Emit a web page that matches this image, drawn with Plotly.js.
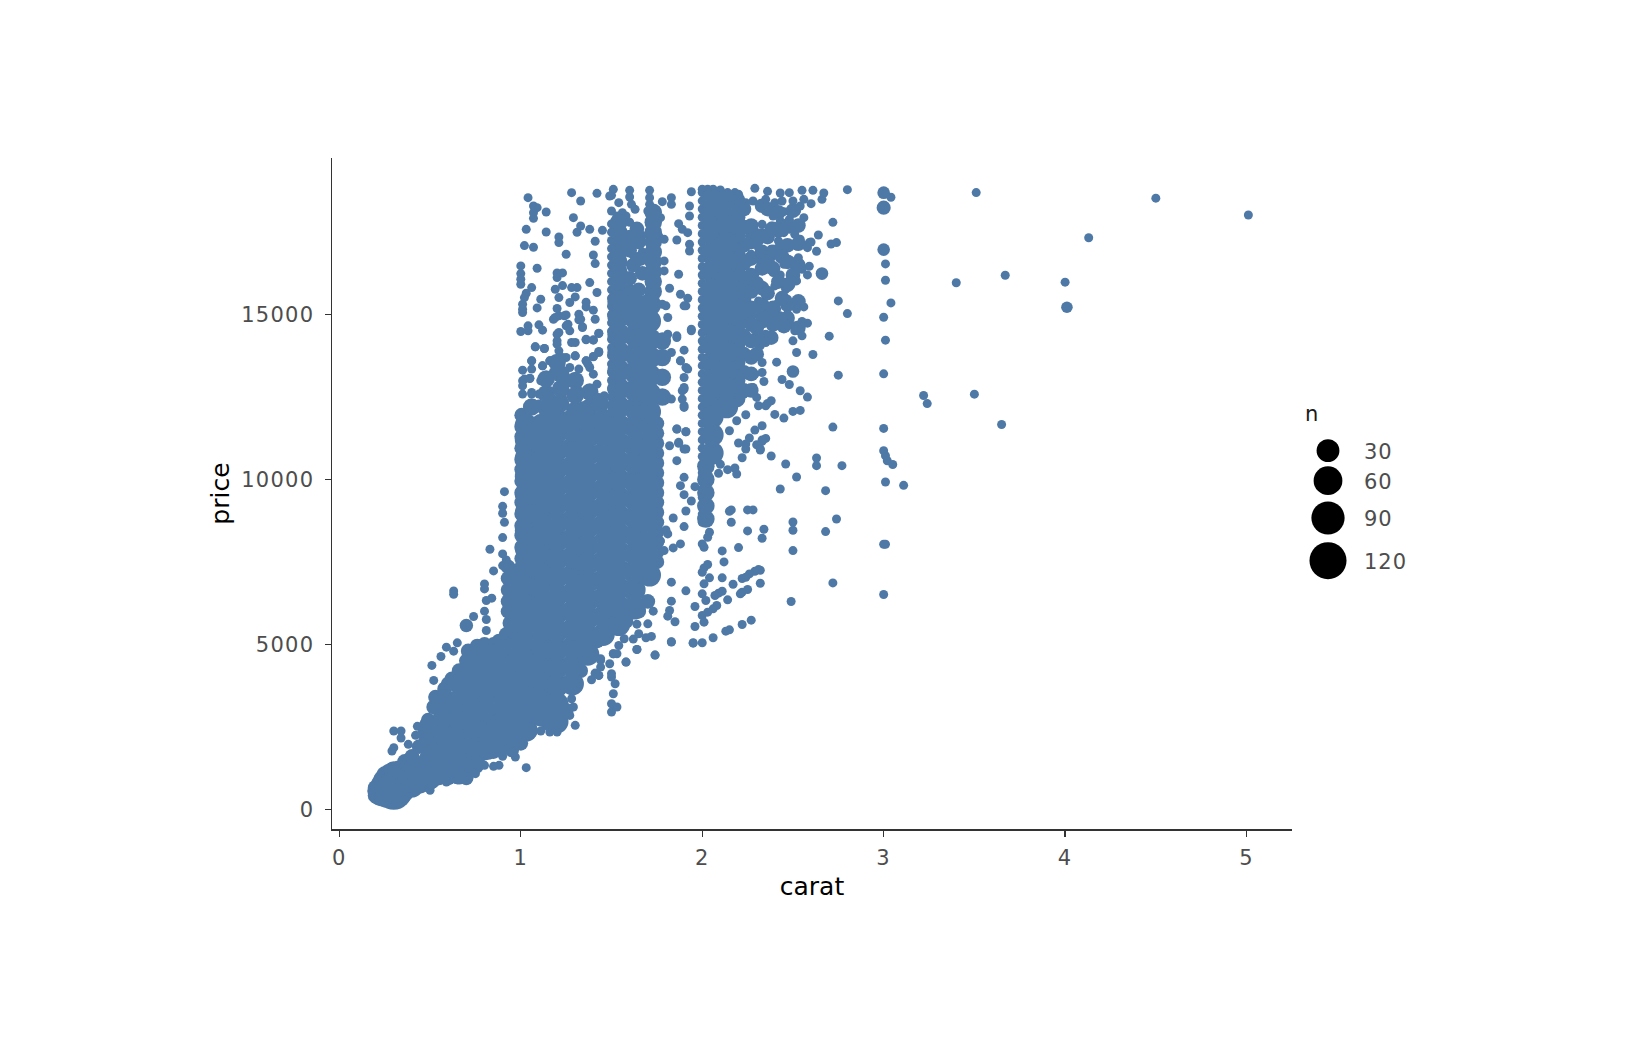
<!DOCTYPE html>
<html><head><meta charset="utf-8">
<script src="https://cdn.plot.ly/plotly-3.0.1.min.js"></script>
<style>html,body{margin:0;padding:0;background:#fff}
.xtick text,.ytick text{letter-spacing:1.26px}
.textpoint text{letter-spacing:1px}</style></head>
<body><div id="chart" style="width:1632px;height:1056px"></div>
<script>
// [carat, price] pairs, count n = 1
const single = [
3.51,18700,4.5,18531,5.01,18018,4.13,17329,3.67,16193,3.4,15964,4,15984,3.22,12545,3.24,12300,3.5,12587,3.65,11668,
3.04,18559,3.01,16536,3.01,16041,3.04,15354,3,14920,3.01,14224,3,13204,3,11548,3,10872,3.01,10720,3.02,10569,3.05,10453,3.01,9923,3.11,9823,3,6512,
2.8,18787,2.67,18686,2.66,18494,2.61,18767,2.55,18767,2.48,18696,2.43,18686,2.36,18736,2.29,18827,2.72,17798,2.64,17414,2.74,17182,2.71,17141,2.63,16919,2.6,17202,2.59,16465,2.58,16202,2.75,15415,2.8,15031,2.7,14345,2.61,13790,2.52,13850,2.41,13558,2.75,13164,2.44,13033,2.48,12881,2.54,12690,2.58,12498,2.5,12064,2.54,12094,2.24,11962,2.4,11973,2.45,11862,2.19,11781,2.38,12387,2.36,12306,2.35,12235,2.31,12235,2.3,12488,
2.33,11629,2.72,11589,2.35,11245,2.33,11154,2.32,10892,2.38,10710,2.46,10468,2.63,10650,2.63,10418,2.77,10418,2.52,10074,2.43,9711,2.68,9660,2.74,8802,2.5,8711,2.5,8459,2.34,8489,2.33,8217,2.68,8419,3,8035,3.01,8035,2.5,7843,2.32,7248,2.32,6854,2.72,6864,2.49,6299,
2.29,11498,2.15,11478,2.33,11196,2.3,11054,2.32,10923,2.26,11256,2.24,11074,2.24,10923,2.2,11105,2.22,10660,2.1,10459,2.14,10297,2.18,10347,2.19,10166,2.09,10186,2.06,10721,2.16,9076,2.15,9035,2.25,9076,2.28,9076,2.16,8702,2.25,8440,2.2,7935,2.11,7834,2.12,7501,
2.31,7268,2.29,7218,2.26,7137,2.24,7036,2.22,6996,2.17,6824,2.25,6663,2.22,6582,2.21,6532,2.14,6350,2.11,6612,2.09,6552,2.07,6481,2.04,7016,2.11,7016,2.03,7420,2.01,7319,2,7188,2.01,6835,2,6532,2.02,6330,1.96,6148,2.08,6179,2.06,6077,2.03,5976,2,5875,2.01,5674,1.96,5542,2.27,5734,2.22,5603,2.15,5441,2.13,5401,2.06,5199,2,5048,1.95,5048,1.83,5078,2,8850,2.04,8400,2.03,8248,2,8046,2.01,7945,
1.83,6885,1.91,6623,1.83,6310,1.82,6027,1.81,5855,1.85,5684,1.73,6007,1.7,5623,1.64,5613,1.72,5240,1.69,5199,1.65,5320,1.62,5159,1.57,5169,1.64,4846,1.74,4674,1.58,4462,1.54,4967,
1.91,11448,1.86,11529,1.87,11095,1.91,10923,1.86,10570,1.9,10065,1.88,9812,1.96,9782,1.9,9540,1.94,9348,1.91,9045,1.84,8833,1.9,8571,1.8,8470,1.81,8349,1.88,8046,1.84,7925,1.79,7844,1.77,8137,
.91,9630,.9,9186,.9,8974,.91,8701,.9,8237,.83,7884,.9,7742,.92,7560,.9,7389,.85,7227,.8,6834,.8,6682,.63,6620,.63,6520,.84,6400,.81,6329,.8,6006,.81,5753,.74,5844,.81,5420,.65,5047,.59,4916,.63,4794,.56,4633,.51,4361,.52,3907,
.43,2513,.42,2241,.34,2372,.3,2372,.34,2160,.3,1867,.29,1767,.38,1968,1.5,2948,1.53,3099,1.5,3200,1.51,3503,1.52,3806,1.5,4108,1.49,4411,1.51,4714,1.58,4462,1.44,4310,1.44,4563,1.64,4845,1.74,4674,1.83,5068,1.95,5037,
1.3,2544,1.29,3099,1.28,3351,1.2,2342,1.16,2342,1.11,2372,1.27,2846,1.21,2695,1.3,3705,1.39,3927,1.43,4058,1.41,4129,1.03,1262,.97,1585,.88,1332,.85,1302,.8,1332,.9,1605,.59,827,.5,575,.75,1080,
1.43,5118,1.44,4513,1.51,4714,1.5,4008,1.48,5724,1.51,5522,1.41,4109,1.43,4059,1.53,4714,1.54,5724,
1.51,18797,1.5,18615,1.49,18595,1.6,18767,1.6,18565,1.61,18343,1.63,18191,1.71,18767,1.71,18545,1.54,18393,1.5,18141,1.56,18090,1.53,17989,1.58,17989,1.71,18343,1.7,18141,1.75,18141,1.78,18424,1.83,18545,1.83,18343,1.77,17939,1.73,17838,1.94,18726,1.93,18292,1.93,17989,1.87,17757,1.89,17586,1.92,17485,1.86,17263,1.93,17131,1.93,16929,1.87,16223,1.82,15799,1.88,15617,1.92,15496,1.9,15264,1.94,14557,1.9,13921,1.88,13598,1.91,13396,1.9,12790,1.89,12690,1.9,12235,1.86,14355,1.83,13850,1.8,15264,1.81,14910,1.78,15314,1.79,16627,1.79,16324,1.79,17283,1.76,17384,
1.04,18545,1.28,18696,1.42,18676,1.33,18444,1.07,18292,1.09,18242,1.14,18111,1.07,18090,1.07,17919,1.29,17939,1.03,17585,1.14,17505,1.31,17495,1.33,17686,1.38,17585,1.45,17555,1.21,17353,1.21,17182,1.41,17222,1.02,17091,1.07,17040,1.25,16828,1.4,16808,1.41,16546,1,16475,1.09,16404,1.2,16263,1.23,16263,1.2,16122,1,16243,1,16071,1,15920,1.38,15970,1.06,15819,1.03,15647,1.02,15516,1.19,15768,1.23,15880,1.28,15819,1.31,15819,1.42,15668,1.21,15516,1.11,15466,1.3,15536,1.27,15365,1.01,15314,1.01,15163,1.01,15062,1.09,15203,1.2,15183,1.36,15375,1.36,15233,1.4,15133,1.41,14860,1.32,15011,1.32,14840,1.18,14860,1.25,14991,1.21,14961,1.1,14688,1.12,14527,1.04,14658,1.04,14506,1,14486,1.34,14628,1.26,14708,1.21,14456,1.2,14203,1.27,14506,1.3,14153,1.36,14234,1.4,14234,1.43,14426,1.08,14022,1.13,13972,1.43,13881,1.4,13729,1.06,13598,1.01,13315,1.06,13346,1.12,13446,1.16,13598,1.25,13699,1.21,13901,1.3,13749,1.36,13598,1.38,13396,1.05,13063,1.01,12992,1.01,12841,1.01,12588,1.06,12639,1.11,12992,
1.19,14910,1.24,14961,1.33,14860,1.34,14607,1.25,14658,1.2,14405,1.28,14153,1.43,14436,1.36,14254,1.4,14224,1.2,14103,1.08,14022,1.13,13971,1.43,13850,1.4,13719,1.36,13598,1.16,13598,1.06,13598,1.12,13446,1.23,13699,1.3,13749,1.18,13265,1.27,13396,1.32,13346,1.42,12891,1.37,13497,1.02,13043,1.05,13073,1.06,12588,1.12,13043,1.16,12689,1.4,13194,1.43,12487,1.46,12538,1.38,12689,1.25,12891,1.32,12689,1.23,12487,1.1,12588,1.18,12437,1.05,12286,1.1,12286,1.34,12235,1.43,12185,
1.88,13598,1.92,13346,1.9,13093,1.9,12740,1.89,12437,1.9,12185,1.86,11528,1.91,11448,1.87,11125,1.9,10923,1.82,11023,1.83,12437,1.86,14304,1.94,14506,1.91,15264,1.81,14405,
2.26,17737,2.29,17535,2.33,17737,2.38,17686,2.43,17838,2.48,17888,2.52,17737,2.56,17939,2.4,18393,2.44,18444,2.5,18444,2.54,18292,2.45,18121,2.35,18494,2.32,18343,2.28,18444,2.56,18494,2.6,18363,2.52,18141,2.24,18393,2.39,17989,2.48,17585,2.51,17434,2.45,17485,2.37,17636,2.54,17283,2.59,17182,2.58,17030,2.52,17081,2.48,17081,2.42,17232,2.38,16980,2.39,16778,2.37,16627,2.42,17030,2.26,17384,2.25,17182,2.31,17030,2.27,16828,2.32,16627,2.53,16727,2.49,16627,2.45,16525,2.51,16374,2.55,16374,2.35,16374,2.39,16273,2.43,16202,2.29,16223,2.52,16021,2.49,15920,2.46,15768,2.4,15869,2.34,15819,2.26,15970,2.31,15415,2.41,15314,2.47,15466,2.49,15314,2.54,15415,2.56,15233,2.52,15163,2.41,15163,2.34,15112,2.47,15011,2.43,14961,2.43,14729,2.37,14860,2.38,14658,2.58,14739,2.5,14658,2.55,14789,2.51,14506,2.55,14355,2.5,14203,2.35,14406,2.35,14153,2.33,14708,2.27,14910,2.3,14406,2.32,14052,2.33,13548,2.29,13194,2.33,13245,2.34,12972,2.28,12790,2.23,12588,
2,18800,2.03,18800,2.06,18800,2.1,18780,2.14,18700,2.18,18700,2.2,18650,
2,18700,2,18450,2,18200,2,17950,2,17700,2,17450,2,17200,2,16950,2,16700,2,16450,2,16200,2,15950,2,15700,2,15450,2,15200,2,14950,2,14700,2,14450,2,14200,2,13950,2,13700,2,13450,2,13200,2,12950,2,12700,2,12450,2,12200,2,11950,2,11700,2,11450,2,11200,2,10950,2,10700,2,10450,2,10200,2,9950,2,9700,2,9450,2,9200,2,8950,2,8700,
1.5,12000,1.5,12250,1.5,12500,1.5,12750,1.5,13000,1.5,13250,1.5,13500,1.5,13750,1.5,14000,1.5,14250,1.5,14500,1.5,14750,1.5,15000,1.5,15250,1.5,15500,1.5,15750,1.5,16000,1.5,16250,1.5,16500,1.5,16750,1.5,17000,1.5,17250,1.5,17500,1.5,17750,
1.62,15700,1.61,16050,1.63,16450,1.62,16800,1.61,17150,1.63,17500,1.6,17800,1.66,15800,1.66,16300,1.67,16900,1.67,17400
];
// [carat, price, n] triples for the larger circles
const counted = [
3,18696,3,3,18242,5,3,16970,3,4.01,15223,2,2.66,16243,3,2.5,13275,3,.7,5572,4,.7,929,4,
.2,420,8,.2,550,10,.2,650,8,.21,390,10,.21,500,14,.21,620,12,.23,420,25,.23,600,30,.23,760,20,.24,480,30,.24,900,16,.25,450,30,.25,650,40,.25,1050,10,.26,430,40,.26,700,40,.26,900,30,.27,480,45,.27,1150,6,.28,480,40,.28,700,45,.28,950,30,.3,545,120,.3,750,60,.3,950,40,.3,1150,20,.31,600,110,.31,800,70,.31,1100,25,.32,600,70,.32,830,60,.32,1050,30,.33,600,55,.33,850,50,.33,1200,15,.35,600,40,.35,850,30,.35,1150,25,.36,650,35,.38,700,30,.38,1000,25,.4,700,30,.4,950,30,.4,1250,12,.42,750,20,.42,1100,20,.42,1400,8
];
// pairs with n = 30 : the packed body of the cloud
const packed30 = [
.5,950,.5,1500,.5,2050,.5,2500,
.58,1150,.58,1700,.58,2250,.58,2800,.58,3300,
.66,1100,.66,1650,.66,2200,.66,2750,.66,3300,.66,3850,
.74,1400,.74,1950,.74,2500,.74,3050,.74,3600,.74,4150,.74,4600,
.82,1850,.82,2400,.82,2950,.82,3500,.82,4050,.82,4600,
.9,2100,.9,2650,.9,3200,.9,3750,.9,4300,.9,4800,
.97,2200,.97,2750,.97,3300,.97,3850,.97,4400,.97,4950,.97,5500,.97,6050,.97,6600,.97,7100,
1.03,2400,1.03,2950,1.03,3500,1.03,4050,1.03,4600,1.03,5150,1.03,5700,1.03,6250,1.03,6800,1.03,7350,1.03,7900,1.03,8450,1.03,9000,1.03,9550,1.03,10100,1.03,10650,1.03,11200,1.03,11650,
1.115,2850,1.115,3400,1.115,3950,1.115,4500,1.115,5050,1.115,5600,1.115,6150,1.115,6700,1.115,7250,1.115,7800,1.115,8350,1.115,8900,1.115,9450,1.115,10000,1.115,10550,1.115,11100,1.115,11650,
1.2,2650,1.2,3200,1.2,3750,1.2,4300,1.2,4850,1.2,5400,1.2,5950,1.2,6500,1.2,7050,1.2,7600,1.2,8150,1.2,8700,1.2,9250,1.2,9800,1.2,10350,1.2,10900,1.2,11450,1.2,11800,
1.285,3800,1.285,4350,1.285,4900,1.285,5450,1.285,6000,1.285,6550,1.285,7100,1.285,7650,1.285,8200,1.285,8750,1.285,9300,1.285,9850,1.285,10400,1.285,10950,1.285,11500,1.285,11800,
1.37,4700,1.37,5250,1.37,5800,1.37,6350,1.37,6900,1.37,7450,1.37,8000,1.37,8550,1.37,9100,1.37,9650,1.37,10200,1.37,10750,1.37,11300,1.37,11800,
1.455,5300,1.455,5850,1.455,6400,1.455,6950,1.455,7500,1.455,8050,1.455,8600,1.455,9150,1.455,9700,1.455,10250,1.455,10800,1.455,11350,1.455,11800,
1.54,5600,1.54,6150,1.54,6700,1.54,7250,1.54,7800,1.54,8350,1.54,8900,1.54,9450,1.54,10000,1.54,10550,1.54,11100,1.54,11650,1.54,12200,1.54,12750,1.54,13300,1.54,13850,1.54,14400,1.54,14950,1.54,15400,
1.625,6100,1.625,6650,1.625,7200,1.625,7750,1.625,8300,1.625,8850,1.625,9400,1.625,9950,1.625,10500,1.625,11050,1.625,11600,1.63,12150,1.63,12700,1.63,13250,1.63,13800,1.63,14350,1.63,14900,1.63,15300,
1.71,7100,1.71,7650,1.71,8200,1.71,8750,1.71,9300,1.71,9850,1.71,10400,1.71,10950,1.71,11500,1.71,12050,1.71,12600,1.71,13150,1.71,13700,1.71,14250,1.71,14800,1.71,15300,
2.055,18480,2.055,17950,2.055,17400,2.055,16850,2.055,16300,2.055,15750,2.055,15200,2.055,14650,2.055,14100,2.055,13550,2.055,13000,2.055,12450,2.055,11900,2.055,11350,2.055,10800,
2.135,18450,2.135,18100,2.135,17700,2.135,17150,2.135,16600,2.135,16050,2.135,15500,2.135,14950,2.135,14400,2.135,13850,2.135,13300,2.135,12750,2.135,12200
];
// pairs with n = 12 : thinner parts of the cloud
const packed12 = [
1.14,12150,1.14,12600,1.14,13050,1.22,12300,1.22,12750,1.22,13200,1.3,12100,1.3,12550,1.3,13000,1.38,12200,1.38,12650,1.06,12200,1.44,12300,1.2,13550,
1.78,12500,1.78,13100,1.78,13700,1.78,14200,
1.54,15700,1.54,16000,1.54,16300,1.54,16600,1.54,16900,1.54,17200,1.54,17500,1.54,17800,
1.73,15700,1.73,16000,1.73,16300,1.73,16600,1.73,16900,1.73,17200,1.73,17500,1.73,17800,1.73,18100,
2.19,18450,2.19,17950,2.19,17400,2.19,16850,2.19,16300,2.19,15750,2.19,15200,2.19,14650,2.19,14100,2.19,13550,2.19,13000,2.19,12450,
2.02,10400,2.02,10000,2.02,9600,2.02,9200,2.02,8800
];
// pairs with n = 6 : the edges of the cloud
const edge6 = [
.36,1450,.4,1600,.44,1900,.47,2300,.49,2700,.52,3100,.53,3400,.58,3650,.6,3800,.62,3950,.66,4200,.7,4500,.71,4800,.76,4950,.8,5000,.85,5000,.88,5100,.92,5300,.94,5650,.93,6000,.93,6300,.93,6650,.93,7000,.93,7350,
1.005,7600,1.005,7950,1.005,8300,1.005,8600,1.005,8950,1.005,9300,1.005,9600,1.005,9950,1.005,10300,1.005,10600,1.005,10950,1.005,11300,1.005,11600,1.005,11950,
.45,700,.5,800,.55,950,.6,950,.65,980,.7,980,.75,1350,.8,1700,.85,1750,.9,1850,.95,1800,1,2000,1.05,2350,1.1,2750,1.15,2600,1.2,2600,1.25,3000,1.29,3700,1.33,4200,1.38,4700,1.42,5100,1.47,5400,1.52,5500,1.58,5700,1.65,6000,1.7,6300,1.72,7000,1.75,7500,
1.75,7800,1.75,8100,1.75,8400,1.75,8700,1.75,9000,1.75,9300,1.75,9600,1.75,9900,1.75,10200,1.75,10500,1.75,10800,1.75,11100,1.75,11400,1.75,11700,
1.6,15700,1.65,15750,1.6,16100,1.67,16250,1.62,16500,1.66,16700,1.6,16950,1.65,17200,1.6,17350,1.64,17600,
2.23,18200,2.23,17650,2.23,17100,2.23,16550,2.23,16000,2.23,15450,2.23,14900,2.23,14350,2.23,13800,2.23,13250,2.23,12700,
2.27,17700,2.27,17200,2.27,16700,2.27,16200,2.27,15700,2.27,15200,2.27,14700,2.27,14200,2.27,13700,2.27,13200,2.27,12700,
2.33,18300,2.33,17400,2.33,16900,2.33,16400,2.33,15800,2.33,15300,2.33,14800,2.33,14300,
2.39,17600,2.39,16900,2.39,16400,2.39,15200,2.39,14700,
2.47,17700,2.47,17100,2.47,16600,2.47,15900,2.47,15300,2.47,14900,
2.53,17700,2.53,17150,2.53,16500,2.53,15400,2.53,14600,
2.3,17250,2.36,17350,2.42,17550,2.44,16750,2.36,16600,2.3,15950,2.36,15650,2.42,16000,2.44,15500,2.5,16200,2.3,15100,2.38,15000,2.45,14650,2.3,14600,2.38,14300,2.3,13800,2.36,18200,2.42,18100,2.5,18150
];
const xTicks = [0,1,2,3,4,5];
const xLabels = ['0','1','2','3','4','5'];
const yTicks = [0,5000,10000,15000];
const yLabels = ['0','5000','10000','15000'];
const legendCounts = [30,60,90,120];
const legendLabels = ['30','60','90','120'];
const legendY = [450.7,480.7,518,560.7];
const legendLabelY = [453.7,483.7,521,563.7];

const carat = [], price = [], n = [];
function addPairs(list, count){ for(let i=0;i<list.length;i+=2){ carat.push(list[i]); price.push(list[i+1]); n.push(count);} }
addPairs(single,1); addPairs(edge6,6); addPairs(packed12,12); addPairs(packed30,30);
for(let i=0;i<counted.length;i+=3){ carat.push(counted[i]); price.push(counted[i+1]); n.push(counted[i+2]); }
const sizeOf = c => 9 + 2.57*Math.sqrt(c-1);
const W=1632,H=1056,L=332,R=1292,T=158,B=829;
const font='"DejaVu Sans",sans-serif';
const traces=[
 {type:'scatter',mode:'markers',x:carat,y:price,marker:{color:'#4E79A7',size:n.map(sizeOf),sizemode:'diameter',line:{width:0},opacity:1},hoverinfo:'skip',showlegend:false},
 {type:'scatter',mode:'markers',xaxis:'x2',yaxis:'y2',x:legendCounts.map(()=>1328),y:legendY,marker:{color:'#000',size:legendCounts.map(sizeOf),line:{width:0},opacity:1},hoverinfo:'skip',showlegend:false},
 {type:'scatter',mode:'text',xaxis:'x2',yaxis:'y2',x:legendCounts.map(()=>1364),y:legendLabelY,text:legendLabels,textposition:'middle right',textfont:{family:font,size:21,color:'#4D4D4D'},hoverinfo:'skip',showlegend:false},
 {type:'scatter',mode:'text',xaxis:'x2',yaxis:'y2',x:[1305],y:[416],text:['n'],textposition:'middle right',textfont:{family:font,size:21,color:'#1a1a1a'},hoverinfo:'skip',showlegend:false}
];
const axisBase={showgrid:false,zeroline:false,showline:true,linecolor:'#333',linewidth:1.5,ticks:'outside',ticklen:6,tickwidth:1.3,tickcolor:'#333',tickmode:'array',tickfont:{family:font,size:21,color:'#4D4D4D'},automargin:false};
const layout={
 width:W,height:H,margin:{l:0,r:0,t:0,b:0},paper_bgcolor:'#fff',plot_bgcolor:'rgba(0,0,0,0)',hovermode:false,showlegend:false,
 xaxis:Object.assign({},axisBase,{domain:[L/W,R/W],range:[-0.0405,5.2505],tickvals:xTicks,ticktext:xLabels,anchor:'y',ticklabelstandoff:3,title:{text:'carat',font:{family:font,size:25,color:'#000'},standoff:9}}),
 yaxis:Object.assign({},axisBase,{domain:[(H-B)/H,(H-T)/H],range:[-599,19748],tickvals:yTicks,ticktext:yLabels,anchor:'x',ticklabelstandoff:6,title:{text:'price',font:{family:font,size:25,color:'#000'},standoff:4}}),
 xaxis2:{domain:[0,1],range:[0,W],visible:false,anchor:'y2',fixedrange:true},
 yaxis2:{domain:[0,1],range:[H,0],visible:false,anchor:'x2',fixedrange:true}
};
Plotly.newPlot('chart',traces,layout,{displayModeBar:false,staticPlot:true});
</script></body></html>
